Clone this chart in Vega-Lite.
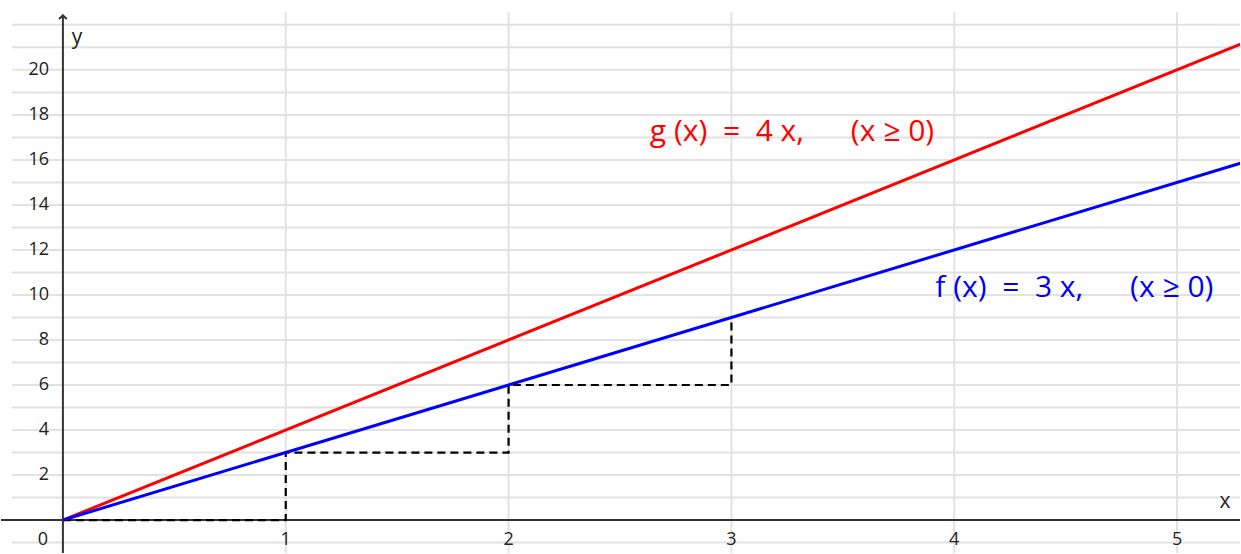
{
  "$schema": "https://vega.github.io/schema/vega-lite/v6.json",
  "width": 1241,
  "height": 554,
  "autosize": {"type": "fit", "contains": "padding"},
  "padding": 0,
  "background": "white",
  "view": {"stroke": null},
  "config": {"font": "Open Sans"},
  "datasets": {
    "hgrid": [{"y": -1}, {"y": 1}, {"y": 2}, {"y": 3}, {"y": 4}, {"y": 5}, {"y": 6}, {"y": 7}, {"y": 8}, {"y": 9}, {"y": 10}, {"y": 11}, {"y": 12}, {"y": 13}, {"y": 14}, {"y": 15}, {"y": 16}, {"y": 17}, {"y": 18}, {"y": 19}, {"y": 20}, {"y": 21}, {"y": 22}],
    "vgrid": [{"x": 1}, {"x": 2}, {"x": 3}, {"x": 4}, {"x": 5}],
    "funcs": [
      {"series": "g", "x": 0, "y": 0},
      {"series": "g", "x": 5.29, "y": 21.16},
      {"series": "f", "x": 0, "y": 0},
      {"series": "f", "x": 5.29, "y": 15.87}
    ],
    "steps": [
      {"i": 0, "x": 0, "y": 0},
      {"i": 1, "x": 1, "y": 0},
      {"i": 2, "x": 1, "y": 3},
      {"i": 3, "x": 2, "y": 3},
      {"i": 4, "x": 2, "y": 6},
      {"i": 5, "x": 3, "y": 6},
      {"i": 6, "x": 3, "y": 9}
    ],
    "ylabels": [{"y": 2}, {"y": 4}, {"y": 6}, {"y": 8}, {"y": 10}, {"y": 12}, {"y": 14}, {"y": 16}, {"y": 18}, {"y": 20}],
    "xlabels": [{"x": 1}, {"x": 2}, {"x": 3}, {"x": 4}, {"x": 5}],
    "notes": [
      {"series": "g", "x": 2.634, "y": 17.25, "text": "g\u00a0(x)\u00a0\u00a0=\u00a0\u00a04\u00a0x,\u00a0\u00a0\u00a0\u00a0\u00a0\u00a0(x\u00a0≥\u00a00)"},
      {"series": "f", "x": 3.915, "y": 10.33, "text": "f\u00a0(x)\u00a0\u00a0=\u00a0\u00a03\u00a0x,\u00a0\u00a0\u00a0\u00a0\u00a0\u00a0(x\u00a0≥\u00a00)"}
    ]
  },
  "layer": [
    {
      "data": {"name": "hgrid"},
      "mark": {"type": "rule", "color": "#e2e2e2", "strokeWidth": 2},
      "encoding": {
        "y": {"field": "y", "type": "quantitative", "scale": {"domain": [-1.4634, 23.104], "nice": false, "zero": false}, "axis": null},
        "x": {"datum": -0.2285, "type": "quantitative", "scale": {"domain": [-0.2778, 5.2823], "nice": false, "zero": false}, "axis": null},
        "x2": {"datum": 5.2823}
      }
    },
    {
      "data": {"name": "vgrid"},
      "mark": {"type": "rule", "color": "#e2e2e2", "strokeWidth": 2},
      "encoding": {
        "x": {"field": "x", "type": "quantitative"},
        "y": {"datum": -1.4634},
        "y2": {"datum": 22.57}
      }
    },
    {
      "data": {"values": [{"a": 1}]},
      "mark": {"type": "rule", "color": "#333333", "strokeWidth": 2},
      "encoding": {"y": {"datum": 0}, "x": {"datum": -0.2778}, "x2": {"datum": 5.2823}}
    },
    {
      "data": {"values": [{"a": 1}]},
      "mark": {"type": "rule", "color": "#333333", "strokeWidth": 2},
      "encoding": {"x": {"datum": 0}, "y": {"datum": -1.4634}, "y2": {"datum": 22.45}}
    },
    {
      "data": {"values": [{"a": 1}]},
      "mark": {"type": "point", "shape": "M-1,0.9 L0,0 L1,0.9", "filled": false, "color": "#333333", "strokeWidth": 2, "size": 60, "opacity": 1},
      "encoding": {"x": {"datum": 0}, "y": {"datum": 22.42}}
    },
    {
      "data": {"name": "steps"},
      "mark": {"type": "line", "color": "black", "strokeWidth": 2.2, "strokeDash": [8, 5]},
      "encoding": {
        "x": {"field": "x", "type": "quantitative"},
        "y": {"field": "y", "type": "quantitative"},
        "order": {"field": "i"}
      }
    },
    {
      "data": {"name": "funcs"},
      "mark": {"type": "line", "strokeWidth": 3, "clip": true},
      "encoding": {
        "x": {"field": "x", "type": "quantitative"},
        "y": {"field": "y", "type": "quantitative"},
        "detail": {"field": "series"},
        "color": {"field": "series", "type": "nominal", "scale": {"domain": ["f", "g"], "range": ["#0000ff", "#ff0000"]}, "legend": null}
      }
    },
    {
      "data": {"name": "ylabels"},
      "mark": {"type": "text", "align": "right", "baseline": "middle", "fontSize": 18, "color": "#222222"},
      "encoding": {"x": {"datum": -0.062}, "y": {"field": "y", "type": "quantitative"}, "text": {"field": "y", "type": "quantitative"}}
    },
    {
      "data": {"name": "xlabels"},
      "mark": {"type": "text", "align": "center", "baseline": "middle", "fontSize": 18, "color": "#222222"},
      "encoding": {"x": {"field": "x", "type": "quantitative"}, "y": {"datum": -0.887}, "text": {"field": "x", "type": "quantitative"}}
    },
    {
      "data": {"values": [{"t": "0"}]},
      "mark": {"type": "text", "align": "center", "baseline": "middle", "fontSize": 18, "color": "#222222"},
      "encoding": {"x": {"datum": -0.0896}, "y": {"datum": -0.887}, "text": {"field": "t"}}
    },
    {
      "data": {"values": [{"t": "y"}]},
      "mark": {"type": "text", "align": "left", "baseline": "middle", "fontSize": 21, "color": "#222222"},
      "encoding": {"x": {"datum": 0.04}, "y": {"datum": 21.4}, "text": {"field": "t"}}
    },
    {
      "data": {"values": [{"t": "x"}]},
      "mark": {"type": "text", "align": "left", "baseline": "middle", "fontSize": 21, "color": "#222222"},
      "encoding": {"x": {"datum": 5.19}, "y": {"datum": 0.82}, "text": {"field": "t"}}
    },
    {
      "data": {"name": "notes"},
      "mark": {"type": "text", "align": "left", "baseline": "middle", "fontSize": 30},
      "encoding": {
        "x": {"field": "x", "type": "quantitative"},
        "y": {"field": "y", "type": "quantitative"},
        "text": {"field": "text"},
        "color": {"field": "series", "type": "nominal", "legend": null}
      }
    }
  ]
}
